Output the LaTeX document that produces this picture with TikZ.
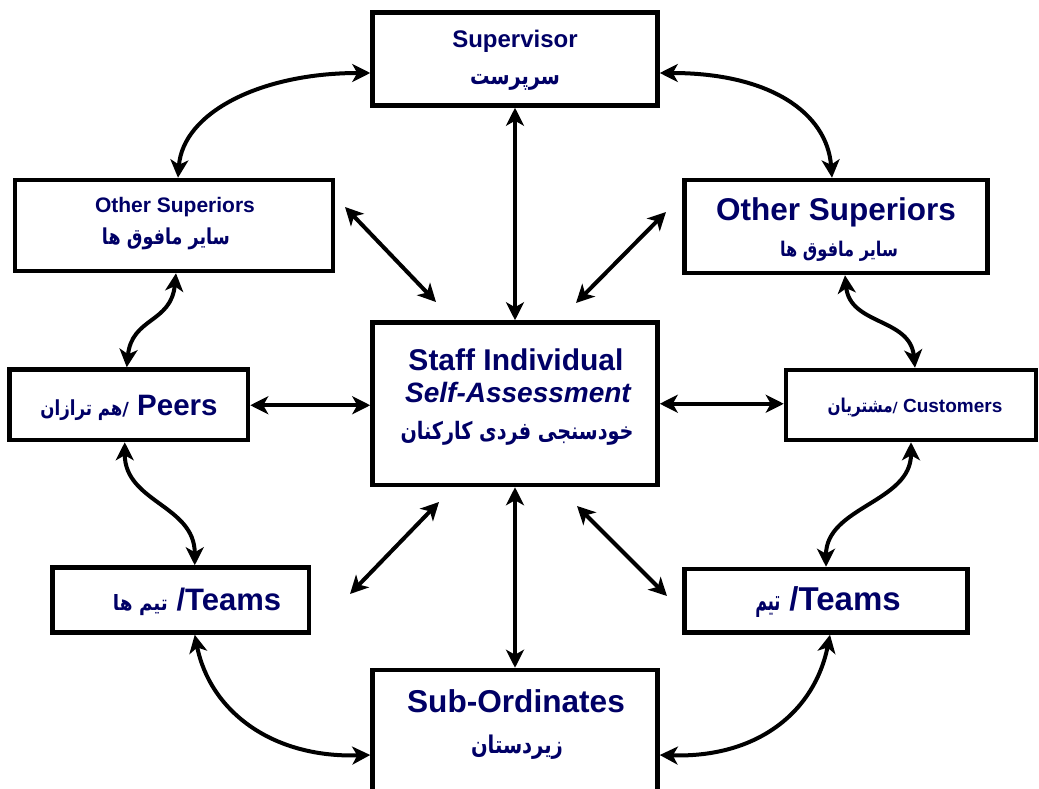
\documentclass[tikz,border=0pt]{standalone}
\usepackage{fontspec}
\usepackage{graphicx}
\setmainfont{Liberation Sans}
\newfontfamily\arfont[Script=Arabic]{DejaVu Sans}
\TeXXeTstate=1
\usetikzlibrary{arrows.meta}
\definecolor{navy}{RGB}{0,0,102}
\newcommand{\fw}[2]{\scalebox{1}[1.25]{\resizebox{#1pt}{!}{#2}}}
\newcommand{\fwh}[3]{\resizebox{#1pt}{#2pt}{#3}}
\newcommand{\fs}[1]{\fontsize{#1}{#1}\selectfont}
\begin{document}
\begin{tikzpicture}[x=1pt,y=-1pt,
  box/.style={draw=black, line width=4.5pt, fill=white, inner sep=0pt},
  txt/.style={text=navy, font=\bfseries, inner sep=0pt, anchor=base},
  conn/.style={line width=4pt, {Stealth[length=18pt,width=18pt,inset=5pt]}-{Stealth[length=18pt,width=18pt,inset=5pt]}}]
\useasboundingbox (0,0) rectangle (1039,789);
\fill[white] (0,0) rectangle (1039,789);
% boxes
\node[box, minimum width=285pt, minimum height=93pt] (sup) at (515,59) {};
\node[box, minimum width=318pt, minimum height=91pt] (osl) at (174,225.5) {};
\node[box, minimum width=303pt, minimum height=93pt] (osr) at (836,226.5) {};
\node[box, minimum width=238.5pt, minimum height=70.5pt] (peers) at (128.75,404.75) {};
\node[box, minimum width=250pt, minimum height=70pt] (cust) at (911,405) {};
\node[box, minimum width=285pt, minimum height=162.5pt] (ctr) at (515,403.75) {};
\node[box, minimum width=256.5pt, minimum height=65pt] (tl) at (180.75,600) {};
\node[box, minimum width=283pt, minimum height=63.5pt] (tr) at (826,600.75) {};
\node[box, minimum width=285pt, minimum height=150pt] (sub) at (515,745) {};
% texts
\node[txt] (supE) at (515,48) {\fs{24}Supervisor};
\node[txt] (supA) at (515,85) {\fw{90}{\arfont\beginR سرپرست\endR}};
\node[txt] (oslE) at (175,212) {\fs{21}Other Superiors};
\node[txt] (oslA) at (166,244) {\fw{128}{\arfont\beginR سایر مافوق ها\endR}};
\node[txt] (osrE) at (836,220) {\fs{31.5}Other Superiors};
\node[txt] (osrA) at (839,256) {\fw{118}{\arfont\beginR سایر مافوق ها\endR}};
\node[txt] (peersT) at (129,415) {\fs{29.5}\fw{82}{\arfont\beginR هم ترازان\endR}{\fs{18}\arfont/}\ Peers};
\node[txt] (custT) at (915,412) {\fs{19}\fw{65}{\arfont\beginR مشتریان\endR}{\fs{14}\arfont/}\ Customers};
\node[txt] (ctrE1) at (516,370) {\fs{30}Staff Individual};
\node[txt] (ctrE2) at (518,402) {\fs{28}\itshape Self-Assessment};
\node[txt] (ctrA) at (517,439) {\fw{233}{\arfont\beginR خودسنجی فردی کارکنان\endR}};
\node[txt] (tlT) at (197,610) {\fs{31}\fwh{55}{16}{\arfont\beginR تیم ها\endR}\ /Teams};
\node[txt] (trT) at (828,610) {\fs{33}\fwh{25}{14}{\arfont\beginR تیم\endR}\ /Teams};
\node[txt] (subE) at (516,712) {\fs{31.6}Sub-Ordinates};
\node[txt] (subA) at (517,753) {\fw{92}{\arfont\beginR زیردستان\endR}};
% straight connectors
\draw[conn] (sup.south) -- (ctr.north);
\draw[conn] (ctr.south) -- (sub.north);
\draw[conn] ([yshift=-0.5pt]peers.east) -- ([yshift=-0.5pt]peers.east -| ctr.west);
\draw[conn] (ctr.east) -- (ctr.east -| cust.west);
% diagonal connectors
\coordinate (d1a) at (345,207); \coordinate (d1b) at (436,302);
\coordinate (d2a) at (666,212); \coordinate (d2b) at (576,303);
\coordinate (d3a) at (439,502); \coordinate (d3b) at (350,594);
\coordinate (d4a) at (577,506); \coordinate (d4b) at (667,596);
\draw[conn] (d1a) -- (d1b);
\draw[conn] (d2a) -- (d2b);
\draw[conn] (d3a) -- (d3b);
\draw[conn] (d4a) -- (d4b);
% curved connectors
\draw[conn] ([yshift=-14pt]sup.west) .. controls +(-110,0) and +(5,-65) .. ([xshift=4pt]osl.north);
\draw[conn] ([yshift=-14pt]sup.east) .. controls +(110,0) and +(-5,-65) .. ([xshift=-4pt]osr.north);
\draw[conn] ([xshift=2pt]osl.south) .. controls +(-5,50) and +(5,-50) .. ([xshift=-2pt]peers.north);
\draw[conn] ([xshift=9pt]osr.south) .. controls +(5,50) and +(-5,-50) .. ([xshift=4pt]cust.north);
\draw[conn] ([xshift=-4pt]peers.south) .. controls +(0,60) and +(0,-60) .. ([xshift=14pt]tl.north);
\draw[conn] (cust.south) .. controls +(0,60) and +(0,-60) .. (tr.north);
\draw[conn] ([xshift=14pt]tl.south) .. controls +(15,75) and +(-100,3) .. ([yshift=-10pt]sub.west);
\draw[conn] ([xshift=4pt]tr.south) .. controls +(-15,75) and +(100,3) .. ([yshift=-10pt]sub.east);
\end{tikzpicture}
\end{document}
